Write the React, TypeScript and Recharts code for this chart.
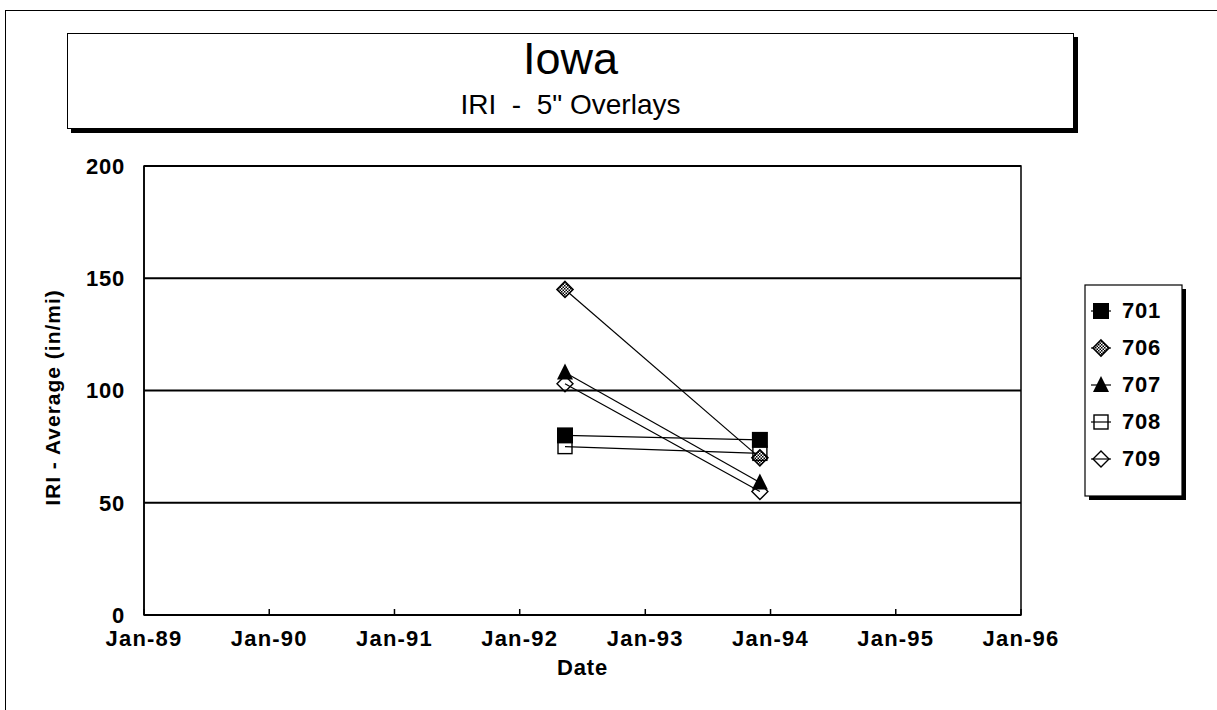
import React from 'react';
import {
  LineChart,
  Line,
  XAxis,
  YAxis,
  CartesianGrid,
  Label,
  ReferenceArea,
} from 'recharts';

// survey dates and IRI readings per test section
const surveyDates = ['1992-05-12', '1993-12-01'];
const sections = ['701', '706', '707', '708', '709'];
const iri701 = [80, 78];
const iri706 = [145, 70];
const iri707 = [108, 59];
const iri708 = [75, 72];
const iri709 = [103, 55];
const yTicks = [0, 50, 100, 150, 200];
const tickYears = [1989, 1990, 1991, 1992, 1993, 1994, 1995, 1996];

const FONT = '"Liberation Sans", Arial, sans-serif';

const toTime = (s: string) => new Date(s + 'T00:00:00Z').getTime();
const janOf = (y: number) => Date.UTC(y, 0, 1);

const seriesValues: Record<string, number[]> = {
  '701': iri701,
  '706': iri706,
  '707': iri707,
  '708': iri708,
  '709': iri709,
};

const markerKind: Record<string, string> = {
  '701': 'square',
  '706': 'hatchDiamond',
  '707': 'triangle',
  '708': 'openSquare',
  '709': 'openDiamond',
};

const data = surveyDates.map((d, i) => {
  const row: Record<string, number> = { date: toTime(d) };
  sections.forEach((s) => {
    row['s' + s] = seriesValues[s][i];
  });
  return row;
});

const xTicks = tickYears.map(janOf);
const formatTick = (t: number) => 'Jan-' + String(new Date(t).getUTCFullYear()).slice(2);

function Marker({ kind, cx, cy }: { kind: string; cx: number; cy: number }) {
  const s = 8;
  switch (kind) {
    case 'square':
      return <rect x={cx - s} y={cy - s} width={2 * s} height={2 * s} fill="#000" />;
    case 'hatchDiamond':
      return (
        <polygon
          points={`${cx},${cy - s} ${cx + s},${cy} ${cx},${cy + s} ${cx - s},${cy}`}
          fill="url(#hatch706)"
          stroke="#000"
          strokeWidth={1.6}
        />
      );
    case 'triangle':
      return (
        <polygon
          points={`${cx},${cy - s - 1} ${cx + s},${cy + s - 1} ${cx - s},${cy + s - 1}`}
          fill="#000"
        />
      );
    case 'openSquare':
      return (
        <rect
          x={cx - s + 1}
          y={cy - s + 1}
          width={2 * s - 2}
          height={2 * s - 2}
          fill="none"
          stroke="#000"
          strokeWidth={1.4}
        />
      );
    default:
      return (
        <polygon
          points={`${cx},${cy - s} ${cx + s},${cy} ${cx},${cy + s} ${cx - s},${cy}`}
          fill="none"
          stroke="#000"
          strokeWidth={1.4}
        />
      );
  }
}

function LegendBox() {
  const rowGap = 37;
  return (
    <svg
      width={110}
      height={220}
      style={{ position: 'absolute', left: 1083, top: 284, overflow: 'visible' }}
    >
      <defs>
        <pattern id="hatch706" width={3} height={3} patternUnits="userSpaceOnUse">
          <rect width={3} height={3} fill="#fff" />
          <rect width={1.5} height={1.5} fill="#000" />
          <rect x={1.5} y={1.5} width={1.5} height={1.5} fill="#000" />
        </pattern>
      </defs>
      <rect x={6} y={5} width={97} height={211} fill="#000" />
      <rect x={2} y={1} width={97} height={211} fill="#fff" stroke="#000" strokeWidth={1.2} />
      {sections.map((s, i) => {
        const cy = 27 + i * rowGap;
        return (
          <g key={s}>
            <line x1={8} x2={28} y1={cy} y2={cy} stroke="#000" strokeWidth={1.2} />
            <Marker kind={markerKind[s]} cx={18} cy={cy} />
            <text
              x={39}
              y={cy + 7}
              fontFamily={FONT}
              fontWeight="bold"
              fontSize={22}
              letterSpacing={0.8}
              fill="#000"
            >
              {s}
            </text>
          </g>
        );
      })}
    </svg>
  );
}

export default function App() {
  return (
    <div
      style={{
        position: 'absolute',
        left: 0,
        top: 0,
        width: 1217,
        height: 710,
        background: '#fff',
        overflow: 'hidden',
        fontFamily: FONT,
      }}
    >
      {/* outer frame, only top and left edges show */}
      <div
        style={{
          position: 'absolute',
          left: 5,
          top: 10,
          width: 1230,
          height: 720,
          borderTop: '1.5px solid #000',
          borderLeft: '1.5px solid #000',
        }}
      />
      <div
        style={{
          position: 'absolute',
          left: 67,
          top: 33,
          width: 1005,
          height: 94,
          border: '1px solid #000',
          boxShadow: '4px 4px 0 #000',
          background: '#fff',
          textAlign: 'center',
          color: '#000',
        }}
      >
        <div style={{ position: 'absolute', left: 0, right: 0, top: 0, fontSize: 45, lineHeight: '50px' }}>
          Iowa
        </div>
        <div style={{ position: 'absolute', left: 0, right: 0, top: 54, fontSize: 28, lineHeight: '34px', whiteSpace: 'pre' }}>
          {'IRI  -  5" Overlays'}
        </div>
      </div>
      <div style={{ position: 'absolute', left: 0, top: 0 }}>
        <LineChart
          width={1217}
          height={710}
          data={data}
          margin={{ top: 166, right: 196, bottom: 0, left: 0 }}
        >
          <CartesianGrid vertical={false} stroke="#000" strokeWidth={2} />
          <ReferenceArea
            x1={janOf(1989)}
            x2={janOf(1996)}
            y1={0}
            y2={200}
            fill="none"
            fillOpacity={0}
            stroke="#000"
            strokeWidth={1.5}
            ifOverflow="visible"
          />
          <XAxis
            dataKey="date"
            type="number"
            domain={[janOf(1989), janOf(1996)]}
            ticks={xTicks}
            tickFormatter={formatTick}
            interval={0}
            height={95}
            stroke="#000"
            strokeWidth={1.5}
            tickSize={-6}
            tickMargin={21}
            tick={{ fill: '#000', fontSize: 22, fontWeight: 'bold', fontFamily: FONT, letterSpacing: 1.2 }}
          >
            <Label
              content={({ viewBox }: any) => (
                <text
                  x={viewBox.x + viewBox.width / 2}
                  y={viewBox.y + 60}
                  textAnchor="middle"
                  fontFamily={FONT}
                  fontWeight="bold"
                  fontSize={22}
                  letterSpacing={0.8}
                  fill="#000"
                >
                  Date
                </text>
              )}
            />
          </XAxis>
          <YAxis
            type="number"
            domain={[0, 200]}
            ticks={yTicks}
            interval={0}
            width={144}
            stroke="#000"
            strokeWidth={1.5}
            tickLine={false}
            tickSize={0}
            tickMargin={19}
            tick={{ fill: '#000', fontSize: 22, fontWeight: 'bold', fontFamily: FONT, letterSpacing: 0.8 }}
          >
            <Label
              content={({ viewBox }: any) => {
                const x = viewBox.x + 52;
                const y = viewBox.y + viewBox.height / 2 + 7;
                return (
                  <text
                    x={x}
                    y={y}
                    transform={`rotate(-90 ${x} ${y})`}
                    textAnchor="middle"
                    dominantBaseline="central"
                    fontFamily={FONT}
                    fontWeight="bold"
                    fontSize={21}
                    letterSpacing={1}
                    fill="#000"
                  >
                    IRI - Average (in/mi)
                  </text>
                );
              }}
            />
          </YAxis>
          {sections.map((s) => (
            <Line
              key={s}
              dataKey={'s' + s}
              name={s}
              stroke="#000"
              strokeWidth={1.2}
              isAnimationActive={false}
              dot={(p: any) => (
                <Marker key={`${s}-${p.index}`} kind={markerKind[s]} cx={p.cx} cy={p.cy} />
              )}
              activeDot={false}
            />
          ))}
        </LineChart>
      </div>
      <LegendBox />
    </div>
  );
}
